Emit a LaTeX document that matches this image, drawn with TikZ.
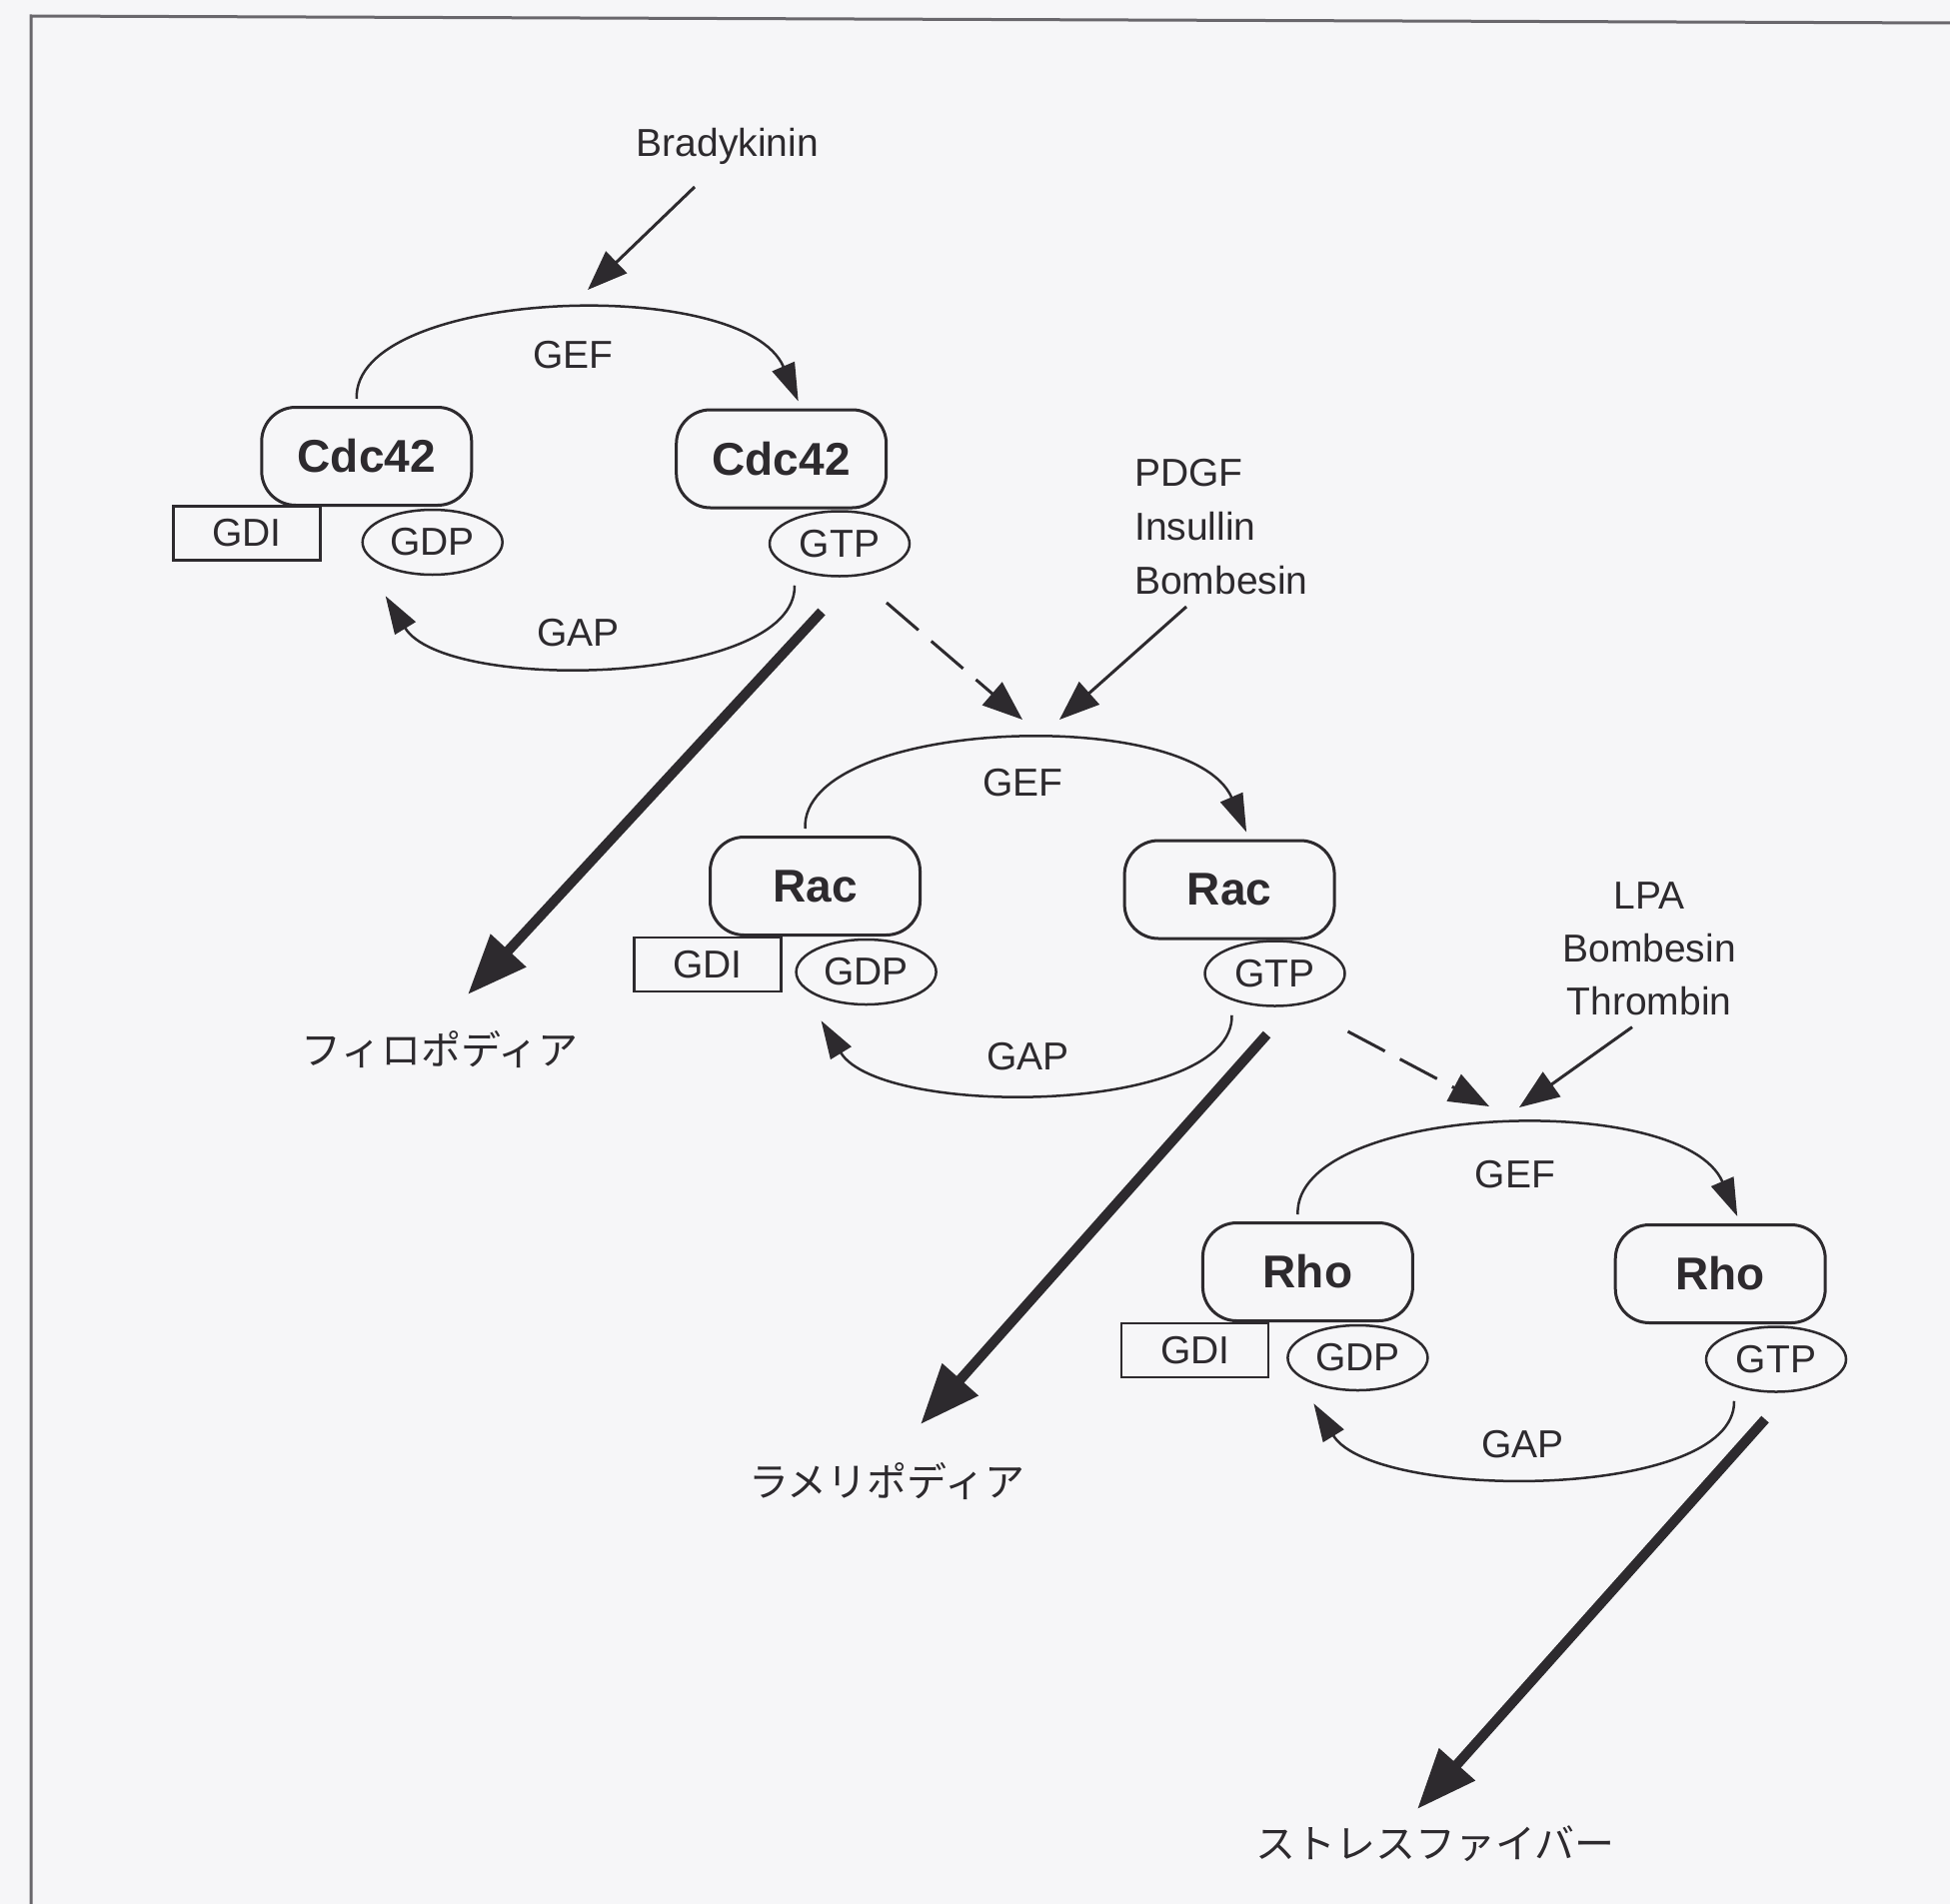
\documentclass[tikz,border=0pt]{standalone}
\usepackage{fontspec}
\setmainfont{Liberation Sans}
\newfontfamily\jp{Noto Sans CJK JP}
\usetikzlibrary{arrows.meta,shapes.geometric,calc}
\definecolor{ink}{RGB}{45,42,46}
\definecolor{bg}{RGB}{246,246,248}
\definecolor{framec}{RGB}{105,103,108}
\begin{document}
\begin{tikzpicture}[x=1pt,y=-1pt,
  prot/.style={draw=ink, line width=3pt, rounded corners=34pt, minimum width=210pt, minimum height=98pt, font=\fontsize{46}{50}\selectfont\bfseries, text=ink, inner sep=0pt},
  gdibox/.style={draw=ink, line width=2.5pt, minimum width=147pt, minimum height=54pt, font=\fontsize{39}{44}\selectfont, text=ink, inner sep=0pt},
  nuc/.style={draw=ink, ellipse, line width=2.5pt, minimum width=140pt, minimum height=65pt, font=\fontsize{39}{44}\selectfont, text=ink, inner sep=0pt, fill=bg},
  lbl/.style={font=\fontsize{39}{44}\selectfont, text=ink, inner sep=0pt},
  jlbl/.style={font=\jp\fontsize{40}{44}\selectfont, text=ink, inner sep=0pt},
  cyc/.style={draw=ink, line width=2.5pt, -{Triangle[length=38pt,width=24pt]}},
  stim/.style={draw=ink, line width=3pt, -{Triangle[length=40pt,width=30pt]}},
  dsh/.style={stim, dash pattern=on 42pt off 17pt},
  big/.style={draw=ink, line width=10pt, -{Triangle[length=60pt,width=46pt]}},
]
\useasboundingbox (0,0) rectangle (1951,1905);
\fill[bg] (0,0) rectangle (1951,1905);
\draw[framec, line width=3pt] (31,1905) -- (31,16) -- (1951,23);

% ---------- Cdc42 module ----------
\node[gdibox] (gdi1) at (247,533.5) {GDI};
\node[prot] (cdcL) at (366.8,456.5) {Cdc42};
\node[prot] (cdcR) at (781.7,459) {Cdc42};
\node[nuc] (gdp1) at (432.7,542.5) {GDP};
\node[nuc] (gtp1) at (840,544) {GTP};
\node[lbl] (gef1) at (573.5,355) {GEF};
\node[lbl] (gap1) at (578.6,633) {GAP};
\draw[cyc] ([xshift=-10pt,yshift=7pt]cdcL.north) .. controls +(-4,-110) and +(-55,-128) .. ([xshift=17pt,yshift=7pt]cdcR.north);
\draw[cyc] ([xshift=-45pt,yshift=-8pt]gtp1.south) .. controls +(2,100) and +(60,98) .. ([xshift=-47pt,yshift=-20pt]gdp1.south);

% ---------- Rac module ----------
\node[gdibox] (gdi2) at (707.9,965) {GDI};
\node[prot] (racL) at (815.5,886.5) {Rac};
\node[prot] (racR) at (1230.1,890) {Rac};
\node[nuc] (gdp2) at (866.6,972.5) {GDP};
\node[nuc] (gtp2) at (1275.5,974) {GTP};
\node[lbl] (gef2) at (1023.5,783) {GEF};
\node[lbl] (gap2) at (1028.6,1057) {GAP};
\draw[cyc] ([xshift=-10pt,yshift=7pt]racL.north) .. controls +(-4,-110) and +(-55,-128) .. ([xshift=17pt,yshift=7pt]racR.north);
\draw[cyc] ([xshift=-43pt,yshift=-8pt]gtp2.south) .. controls +(2,100) and +(60,98) .. ([xshift=-45pt,yshift=-15pt]gdp2.south);

% ---------- Rho module ----------
\node[gdibox] (gdi3) at (1195.7,1351) {GDI};
\node[prot] (rhoL) at (1308.4,1272.5) {Rho};
\node[prot] (rhoR) at (1721.2,1274.5) {Rho};
\node[nuc] (gdp3) at (1358.4,1358.5) {GDP};
\node[nuc] (gtp3) at (1777,1360) {GTP};
\node[lbl] (gef3) at (1515.8,1175) {GEF};
\node[lbl] (gap3) at (1523.5,1445) {GAP};
\draw[cyc] ([xshift=-10pt,yshift=7pt]rhoL.north) .. controls +(-4,-110) and +(-55,-128) .. ([xshift=17pt,yshift=7pt]rhoR.north);
\draw[cyc] ([xshift=-42pt,yshift=-8pt]gtp3.south) .. controls +(2,100) and +(60,98) .. ([xshift=-44pt,yshift=-12pt]gdp3.south);

% ---------- stimuli ----------
\node[lbl] (brady) at (728,146) {Bradykinin};
\node[lbl, font=\fontsize{39}{54}\selectfont, align=left, anchor=north west] (pdgf) at (1135,459) {PDGF\\Insullin\\Bombesin};
\node[lbl, font=\fontsize{39}{53}\selectfont, align=center, anchor=north] (lpa) at (1650,882) {LPA\\Bombesin\\Thrombin};

\coordinate (tB) at (588,290);
\coordinate (tRac) at (1023,720);
\coordinate (tRacP) at (1060,720);
\coordinate (tRho) at (1490,1107);
\coordinate (tRhoL) at (1520,1108);

\draw[stim] ($(brady.center)+(-33,41)$) -- (tB);
\draw[stim] ($(pdgf.south west)+(52,12)$) -- (tRacP);
\draw[stim] ($(lpa.south)+(-17,12)$) -- (tRhoL);
\draw[dsh] ($(gtp1.center)+(47,59)$) -- (tRac);
\draw[dsh] ($(gtp2.center)+(73,58)$) -- (tRho);

% ---------- outputs ----------
\node[jlbl] (filo) at (440,1050) {フィロポディア};
\node[jlbl] (lame) at (887,1482) {ラメリポディア};
\node[jlbl] (stress) at (1436,1845) {ストレスファイバー};

\coordinate (tF) at (468,995);
\coordinate (tL) at (921,1425);
\coordinate (tS) at (1418,1810);
\draw[big] ($(gtp1.center)+(-18,68)$) -- (tF);
\draw[big] ($(gtp2.center)+(-8,61)$) -- (tL);
\draw[big] ($(gtp3.center)+(-11,60)$) -- (tS);
\end{tikzpicture}
\end{document}
